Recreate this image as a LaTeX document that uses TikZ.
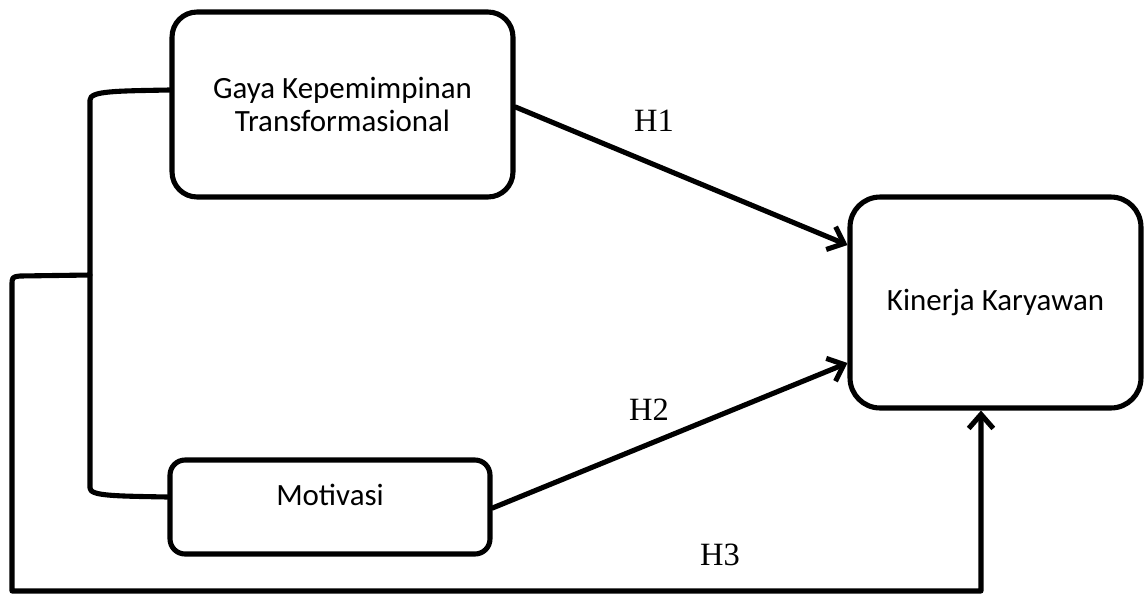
\documentclass[tikz,border=0pt]{standalone}
\usepackage{fontspec}
\setmainfont{Liberation Serif}
\newfontfamily\boxfont{Carlito}
\usetikzlibrary{arrows.meta,calc}
\begin{document}
\begin{tikzpicture}[x=0.02cm,y=-0.02cm,
  line/.style={line width=2.9pt, line cap=round, line join=round},
  arr/.style={line, -{Straight Barb[length=8pt,width=14pt,line width=2.9pt]}},
  box/.style={draw, line width=2.9pt, align=center, inner sep=0pt,
    font=\boxfont\fontsize{17.6}{18.8}\selectfont},
  hlab/.style={font=\fontsize{18.5}{22}\selectfont, inner sep=0pt}]
\useasboundingbox (0,0) rectangle (1144,596);
\node[box, rounded corners=0.5cm, minimum width=6.82cm, minimum height=3.7cm] (g) at (342.5,104.5) {Gaya Kepemimpinan\\Transformasional};
\node[box, rounded corners=0.3cm, minimum width=6.4cm, minimum height=1.88cm, text depth=0.5cm] (m) at (330,507) {Motivasi};
\node[box, rounded corners=0.6cm, minimum width=5.82cm, minimum height=4.22cm] (k) at (995.5,302.5) {Kinerja Karyawan};
\coordinate (j) at (90,275);
\coordinate (c1) at (12,591);
\coordinate (c2) at (981,591);
% bracket joining the two predictors
\draw[line] ($(g.west)+(0,-14.5)$) .. controls (115,91) and (90,91) .. (90,100) -- (90,488) .. controls (90,496) and (115,496) .. ($(m.west)+(0,-10)$);
% H1, H2
\draw[arr] ($(g.east)+(0,2.5)$) -- ($(k.west)+(0,-57.5)$);
\draw[arr] ($(m.east)+(0,1)$) -- ($(k.west)+(0,60.5)$);
% H3
\draw[arr] (j) -- (20,276) .. controls (12,277) .. (12,286) -- (c1) -- (c2) -- ($(k.south)+(-14.5,0)$);
\node[hlab] (h1) at (654,121) {H1};
\node[hlab] (h2) at (649,410) {H2};
\node[hlab] (h3) at (720,555) {H3};
\end{tikzpicture}
\end{document}
